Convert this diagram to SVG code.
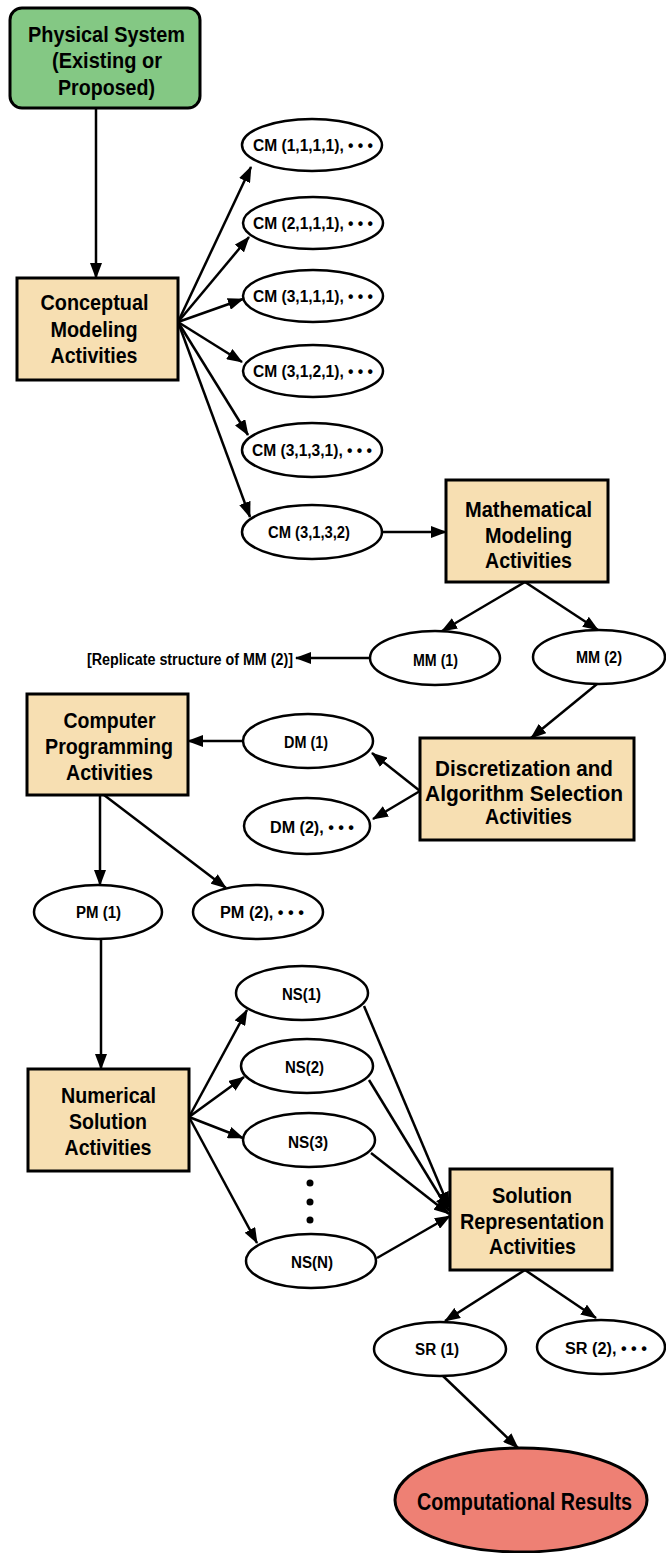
<svg xmlns="http://www.w3.org/2000/svg" width="666" height="1553" viewBox="0 0 666 1553">
  <style>
    .box { fill: #f7dfb2; stroke: #000; stroke-width: 3; }
    .start { fill: #84c884; stroke: #000; stroke-width: 3; }
    .end { fill: #ee8074; stroke: #000; stroke-width: 3; }
    .oval { fill: #fff; stroke: #000; stroke-width: 2.5; }
    text { font-family: "Liberation Sans", Arial, sans-serif; font-weight: bold; text-anchor: middle; fill: #000; }
    .big { font-size: 21.5px; }
    .small { font-size: 16px; }
    .link { stroke: #000; stroke-width: 2.5; fill: none; marker-end: url(#head); }
  </style>
  <defs>
    <marker id="head" markerUnits="userSpaceOnUse" markerWidth="16" markerHeight="12" refX="15" refY="6" orient="auto">
      <path d="M0,0 L16,6 L0,12 z" fill="#000"/>
    </marker>
  </defs>
  <rect width="666" height="1553" fill="#fff"/>

  <g id="connectors">
    <line class="link" x1="96" y1="108" x2="96" y2="278"/>
    <line class="link" x1="178" y1="322" x2="251" y2="167"/>
    <line class="link" x1="178" y1="322" x2="249" y2="237"/>
    <line class="link" x1="178" y1="322" x2="243" y2="299"/>
    <line class="link" x1="178" y1="322" x2="242" y2="362"/>
    <line class="link" x1="178" y1="322" x2="248" y2="435"/>
    <line class="link" x1="178" y1="322" x2="250" y2="517"/>
    <line class="link" x1="382" y1="532" x2="446" y2="532"/>
    <line class="link" x1="525" y1="582" x2="442" y2="631"/>
    <line class="link" x1="525" y1="582" x2="598" y2="630"/>
    <line class="link" x1="370" y1="658" x2="296" y2="658"/>
    <line class="link" x1="597" y1="684" x2="531" y2="738"/>
    <line class="link" x1="420" y1="791" x2="372" y2="753"/>
    <line class="link" x1="420" y1="791" x2="373" y2="819"/>
    <line class="link" x1="244" y1="741" x2="188" y2="741"/>
    <line class="link" x1="100" y1="795" x2="100" y2="885"/>
    <line class="link" x1="104" y1="795" x2="226" y2="888"/>
    <line class="link" x1="101" y1="939" x2="101" y2="1069"/>
    <line class="link" x1="189" y1="1117" x2="247" y2="1010"/>
    <line class="link" x1="189" y1="1117" x2="244" y2="1077"/>
    <line class="link" x1="189" y1="1117" x2="243" y2="1138"/>
    <line class="link" x1="189" y1="1117" x2="257" y2="1243"/>
    <line class="link" x1="364" y1="1006" x2="449" y2="1207"/>
    <line class="link" x1="369" y1="1080" x2="449" y2="1211"/>
    <line class="link" x1="371" y1="1153" x2="449" y2="1214"/>
    <line class="link" x1="377" y1="1258" x2="450" y2="1216"/>
    <line class="link" x1="525" y1="1270" x2="445" y2="1321"/>
    <line class="link" x1="525" y1="1270" x2="596" y2="1318"/>
    <line class="link" x1="443" y1="1376" x2="518" y2="1448"/>
  </g>

  <g id="physical-system">
    <rect class="start" x="10" y="8" width="190" height="100" rx="12"/>
    <text class="big" style="font-size:22px" x="106.5" y="42" textLength="157" lengthAdjust="spacingAndGlyphs">Physical System</text>
    <text class="big" style="font-size:22px" x="107" y="68" textLength="110" lengthAdjust="spacingAndGlyphs">(Existing or</text>
    <text class="big" style="font-size:22px" x="106.5" y="95" textLength="97" lengthAdjust="spacingAndGlyphs">Proposed)</text>
  </g>

  <g id="conceptual">
    <rect class="box" x="17" y="278" width="161" height="102"/>
    <text class="big" x="94.5" y="310" textLength="108" lengthAdjust="spacingAndGlyphs">Conceptual</text>
    <text class="big" x="94" y="337" textLength="87" lengthAdjust="spacingAndGlyphs">Modeling</text>
    <text class="big" x="94" y="363" textLength="87" lengthAdjust="spacingAndGlyphs">Activities</text>
  </g>

  <g id="cm-1111">
    <ellipse class="oval" cx="312" cy="145" rx="70" ry="26"/>
    <text class="small" x="313" y="151" textLength="120" lengthAdjust="spacingAndGlyphs">CM (1,1,1,1), • • •</text>
  </g>
  <g id="cm-2111">
    <ellipse class="oval" cx="313" cy="223" rx="70" ry="26"/>
    <text class="small" x="313" y="229" textLength="120" lengthAdjust="spacingAndGlyphs">CM (2,1,1,1), • • •</text>
  </g>
  <g id="cm-3111">
    <ellipse class="oval" cx="313" cy="296" rx="70" ry="26"/>
    <text class="small" x="313" y="302" textLength="120" lengthAdjust="spacingAndGlyphs">CM (3,1,1,1), • • •</text>
  </g>
  <g id="cm-3121">
    <ellipse class="oval" cx="313" cy="371" rx="70" ry="26"/>
    <text class="small" x="313" y="377" textLength="120" lengthAdjust="spacingAndGlyphs">CM (3,1,2,1), • • •</text>
  </g>
  <g id="cm-3131">
    <ellipse class="oval" cx="312" cy="450" rx="70" ry="27"/>
    <text class="small" x="312" y="456" textLength="120" lengthAdjust="spacingAndGlyphs">CM (3,1,3,1), • • •</text>
  </g>
  <g id="cm-3132">
    <ellipse class="oval" cx="312" cy="532" rx="70" ry="27"/>
    <text class="small" x="309" y="538" textLength="82" lengthAdjust="spacingAndGlyphs">CM (3,1,3,2)</text>
  </g>

  <g id="mathematical">
    <rect class="box" x="446" y="480" width="162" height="102"/>
    <text class="big" x="528.5" y="517" textLength="127" lengthAdjust="spacingAndGlyphs">Mathematical</text>
    <text class="big" x="528.5" y="543" textLength="87" lengthAdjust="spacingAndGlyphs">Modeling</text>
    <text class="big" x="528.5" y="568" textLength="87" lengthAdjust="spacingAndGlyphs">Activities</text>
  </g>

  <g id="mm-1">
    <ellipse class="oval" cx="435" cy="658" rx="65" ry="27"/>
    <text class="small" x="435.5" y="666" textLength="45" lengthAdjust="spacingAndGlyphs">MM (1)</text>
  </g>
  <g id="mm-2">
    <ellipse class="oval" cx="599" cy="657" rx="66" ry="27"/>
    <text class="small" x="599" y="663" textLength="46" lengthAdjust="spacingAndGlyphs">MM (2)</text>
  </g>
  <g id="replicate-note">
    <text class="small" x="190" y="665" textLength="206" lengthAdjust="spacingAndGlyphs">[Replicate structure of MM (2)]</text>
  </g>

  <g id="computer-programming">
    <rect class="box" x="27" y="694" width="161" height="101"/>
    <text class="big" x="109.5" y="728" textLength="92" lengthAdjust="spacingAndGlyphs">Computer</text>
    <text class="big" x="109" y="754" textLength="128" lengthAdjust="spacingAndGlyphs">Programming</text>
    <text class="big" x="109.5" y="780" textLength="87" lengthAdjust="spacingAndGlyphs">Activities</text>
  </g>

  <g id="dm-1">
    <ellipse class="oval" cx="308" cy="741" rx="65" ry="27"/>
    <text class="small" x="306" y="748" textLength="44" lengthAdjust="spacingAndGlyphs">DM (1)</text>
  </g>
  <g id="dm-2">
    <ellipse class="oval" cx="307" cy="826" rx="63" ry="28"/>
    <text class="small" x="312" y="833" textLength="84" lengthAdjust="spacingAndGlyphs">DM (2), • • •</text>
  </g>

  <g id="discretization">
    <rect class="box" x="420" y="738" width="214" height="102"/>
    <text class="big" x="524" y="776" textLength="178" lengthAdjust="spacingAndGlyphs">Discretization and</text>
    <text class="big" x="524" y="801" textLength="198" lengthAdjust="spacingAndGlyphs">Algorithm Selection</text>
    <text class="big" x="528.5" y="824" textLength="87" lengthAdjust="spacingAndGlyphs">Activities</text>
  </g>

  <g id="pm-1">
    <ellipse class="oval" cx="98" cy="912" rx="64" ry="27"/>
    <text class="small" x="98.5" y="918" textLength="45" lengthAdjust="spacingAndGlyphs">PM (1)</text>
  </g>
  <g id="pm-2">
    <ellipse class="oval" cx="258" cy="912" rx="65" ry="27"/>
    <text class="small" x="262" y="918" textLength="84" lengthAdjust="spacingAndGlyphs">PM (2), • • •</text>
  </g>

  <g id="numerical">
    <rect class="box" x="28" y="1069" width="161" height="102"/>
    <text class="big" x="108.5" y="1103" textLength="95" lengthAdjust="spacingAndGlyphs">Numerical</text>
    <text class="big" x="108" y="1129" textLength="78" lengthAdjust="spacingAndGlyphs">Solution</text>
    <text class="big" x="108" y="1155" textLength="87" lengthAdjust="spacingAndGlyphs">Activities</text>
  </g>

  <g id="ns-1">
    <ellipse class="oval" cx="302" cy="993" rx="66" ry="27"/>
    <text class="small" x="301.5" y="1000" textLength="39" lengthAdjust="spacingAndGlyphs">NS(1)</text>
  </g>
  <g id="ns-2">
    <ellipse class="oval" cx="307" cy="1066" rx="66" ry="27"/>
    <text class="small" x="304.5" y="1073" textLength="39" lengthAdjust="spacingAndGlyphs">NS(2)</text>
  </g>
  <g id="ns-3">
    <ellipse class="oval" cx="309" cy="1140" rx="66" ry="27"/>
    <text class="small" x="308" y="1148" textLength="40" lengthAdjust="spacingAndGlyphs">NS(3)</text>
  </g>
  <g id="ns-ellipsis">
    <circle cx="310" cy="1183" r="3.5"/>
    <circle cx="310" cy="1202" r="3.5"/>
    <circle cx="310" cy="1220" r="3.5"/>
  </g>
  <g id="ns-n">
    <ellipse class="oval" cx="311" cy="1261" rx="65" ry="27"/>
    <text class="small" x="312" y="1268" textLength="42" lengthAdjust="spacingAndGlyphs">NS(N)</text>
  </g>

  <g id="solution-representation">
    <rect class="box" x="450" y="1169" width="162" height="101"/>
    <text class="big" x="532" y="1203" textLength="80" lengthAdjust="spacingAndGlyphs">Solution</text>
    <text class="big" x="532" y="1229" textLength="144" lengthAdjust="spacingAndGlyphs">Representation</text>
    <text class="big" x="532.5" y="1254" textLength="87" lengthAdjust="spacingAndGlyphs">Activities</text>
  </g>

  <g id="sr-1">
    <ellipse class="oval" cx="440" cy="1349" rx="66" ry="27"/>
    <text class="small" x="437" y="1355" textLength="44" lengthAdjust="spacingAndGlyphs">SR (1)</text>
  </g>
  <g id="sr-2">
    <ellipse class="oval" cx="601" cy="1347" rx="64" ry="27"/>
    <text class="small" x="606" y="1354" textLength="82" lengthAdjust="spacingAndGlyphs">SR (2), • • •</text>
  </g>

  <g id="computational-results">
    <ellipse class="end" cx="521" cy="1500" rx="126" ry="52"/>
    <text class="big" style="font-size:23px" x="524.5" y="1510" textLength="215" lengthAdjust="spacingAndGlyphs">Computational Results</text>
  </g>
</svg>
